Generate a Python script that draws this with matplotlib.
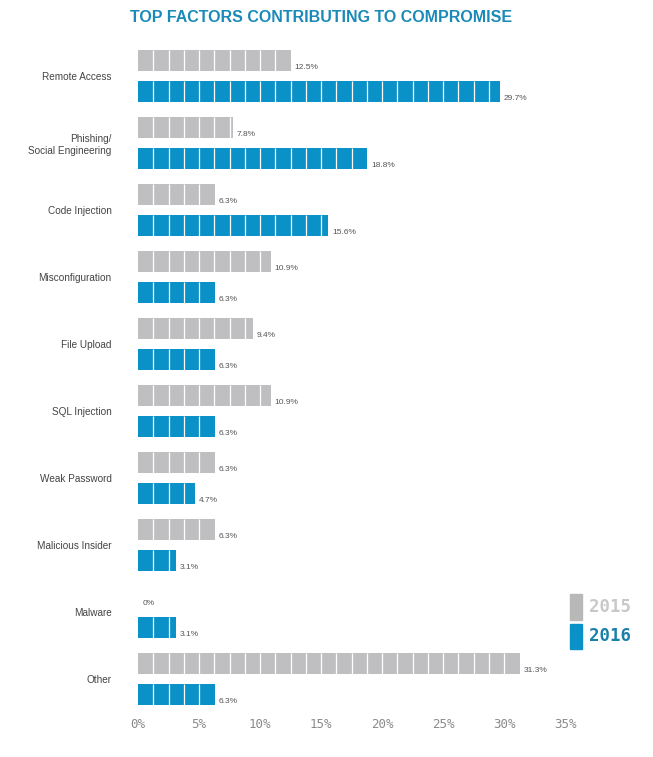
import matplotlib
matplotlib.use("Agg")
import matplotlib.pyplot as plt
import numpy as np

categories = ["Remote Access", "Phishing/\nSocial Engineering", "Code Injection",
              "Misconfiguration", "File Upload", "SQL Injection", "Weak Password",
              "Malicious Insider", "Malware", "Other"]
vals_2015 = [12.5, 7.8, 6.3, 10.9, 9.4, 10.9, 6.3, 6.3, 0, 31.3]
vals_2016 = [29.7, 18.8, 15.6, 6.3, 6.3, 6.3, 4.7, 3.1, 3.1, 6.3]
labels_2015 = ["12.5%", "7.8%", "6.3%", "10.9%", "9.4%", "10.9%", "6.3%", "6.3%", "0%", "31.3%"]
labels_2016 = ["29.7%", "18.8%", "15.6%", "6.3%", "6.3%", "6.3%", "4.7%", "3.1%", "3.1%", "6.3%"]
xticks = [0, 5, 10, 15, 20, 25, 30, 35]
xtick_labels = ["0%", "5%", "10%", "15%", "20%", "25%", "30%", "35%"]
series_names = ["2015", "2016"]

GRAY = "#bfbfc1"
BLUE = "#0a91c8"
W, H = 653, 757
BLOCK = 1.25

fig = plt.figure(figsize=(W / 100, H / 100), dpi=100)
ax = fig.add_axes([138 / W, 1 - 708 / H, 427 / W, 668 / H])

y = np.arange(len(categories))
off = 0.231
h = 0.313
ax.barh(y - off, vals_2015, height=h, color=GRAY, zorder=1)
ax.barh(y + off, vals_2016, height=h, color=BLUE, zorder=1)

# block dividers inside each bar
for yc, vals in ((y - off, vals_2015), (y + off, vals_2016)):
    for yy, v in zip(yc, vals):
        ks = np.arange(BLOCK, v - 0.12, BLOCK)
        if len(ks):
            ax.vlines(ks, yy - h / 2, yy + h / 2, color="white", lw=0.9, zorder=2)

for i in range(len(categories)):
    ax.text(vals_2015[i] + 0.3 if vals_2015[i] > 0 else 0.4, y[i] - off + h / 2 - 0.045,
            labels_2015[i], fontsize=6, color="#555555", va="center", ha="left",
            family="Liberation Sans")
    ax.text(vals_2016[i] + 0.3, y[i] + off + h / 2 - 0.045,
            labels_2016[i], fontsize=6, color="#555555", va="center", ha="left",
            family="Liberation Sans")

ax.set_xlim(0, 35)
ax.set_ylim((708 - 76) / 67, (40 - 76) / 67)
ax.set_xticks(xticks)
ax.set_xticklabels(xtick_labels, family="DejaVu Sans Mono", fontsize=9, color="#8a8a8a")
ax.tick_params(axis="x", length=0, pad=7)
ax.set_yticks(y)
ax.set_yticklabels(categories, family="Liberation Sans", fontsize=7.2, color="#444444",
                   ha="right", linespacing=1.3)
ax.tick_params(axis="y", length=0, pad=19)
for s in ax.spines.values():
    s.set_visible(False)

fig.text(321 / W, 1 - 18 / H, "TOP FACTORS CONTRIBUTING TO COMPROMISE",
         ha="center", va="center", fontsize=11.5, fontweight="bold",
         color="#1a8ab8", family="Liberation Sans")

# legend
lax = fig.add_axes([0, 0, 1, 1], facecolor="none")
lax.set_xlim(0, W)
lax.set_ylim(H, 0)
lax.axis("off")
lax.add_patch(plt.Rectangle((570, 594), 12, 26, color="#b8b8b8"))
lax.add_patch(plt.Rectangle((570, 624), 12, 25, color=BLUE))
lax.text(589, 607, series_names[0], fontsize=12.5, fontweight="bold", color="#c8c8c8",
         family="DejaVu Sans Mono", va="center", ha="left")
lax.text(589, 636, series_names[1], fontsize=12.5, fontweight="bold", color="#1a80a8",
         family="DejaVu Sans Mono", va="center", ha="left")

fig.savefig("out.png", dpi=100)
